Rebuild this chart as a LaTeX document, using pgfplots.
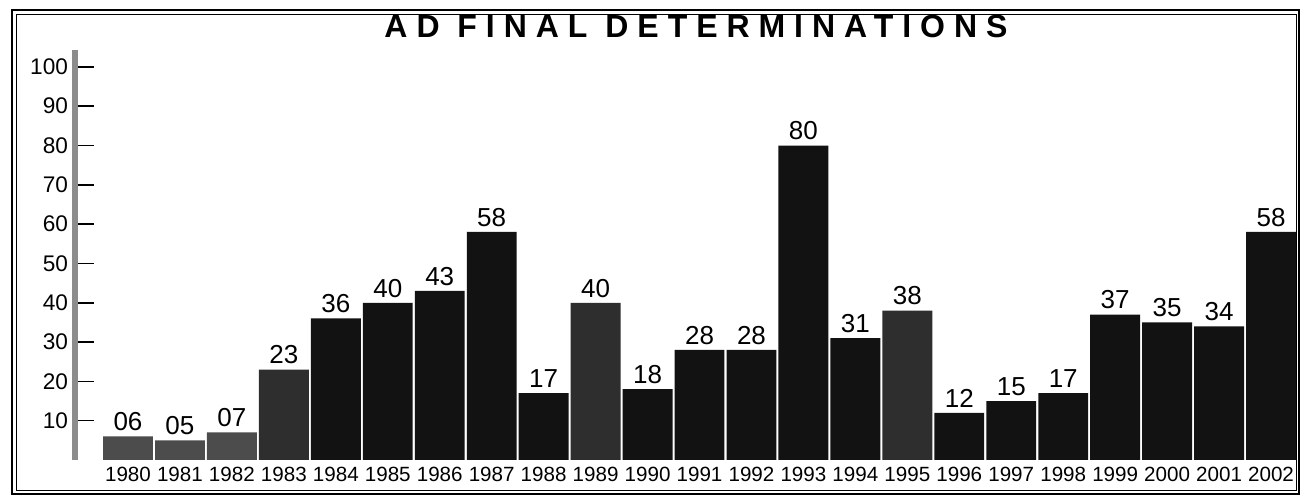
\documentclass[border=0pt]{standalone}
\usepackage{fontspec}
\setmainfont{Liberation Sans}
\usepackage{pgfplots}
\usepackage{pgfplotstable}
\pgfplotsset{compat=1.18}
\pgfplotstableread{
x y lab
0 6 06
1 5 05
2 7 07
}\tA
\pgfplotstableread{
x y lab
3 23 23
9 40 40
15 38 38
}\tB
\pgfplotstableread{
x y lab
4 36 36
5 40 40
6 43 43
7 58 58
8 17 17
10 18 18
11 28 28
12 28 28
13 80 80
14 31 31
16 12 12
17 15 15
18 17 17
19 37 37
20 35 35
21 34 34
22 58 58
}\tC
\begin{document}
\begin{tikzpicture}
\useasboundingbox (0,0) rectangle (650.5pt,248pt);
\draw[line width=1pt] (6pt,1pt) rectangle (649.5pt,243pt);
\draw[line width=0.4pt] (8pt,3pt) rectangle (648pt,241pt);
\node[font=\fontsize{16}{16}\selectfont\bfseries\addfontfeatures{LetterSpace=28}] at (348pt,235pt) {AD FINAL DETERMINATIONS};
\begin{axis}[
  at={(37.5pt,18pt)}, anchor=south west, scale only axis,
  width=611pt, height=205pt,
  xmin=-1.02, xmax=22.5, ymin=0, ymax=104.3,
  axis lines*=left,
  x axis line style={draw=none},
  y axis line style={draw=black!45, line width=3pt},
  xtick={0,...,22},
  xticklabels={1980,1981,1982,1983,1984,1985,1986,1987,1988,1989,1990,1991,1992,1993,1994,1995,1996,1997,1998,1999,2000,2001,2002},
  ytick={10,20,30,40,50,60,70,80,90,100},
  tick align=inside,
  major tick length=9.5pt,
  xtick style={draw=none},
  ytick style={black, line width=0.8pt},
  x tick label style={font=\fontsize{10.3}{10.3}\selectfont},
  y tick label style={font=\fontsize{11.3}{11.3}\selectfont},
  /pgf/number format/assume math mode=true,
  clip=false,
  nodes near coords,
  point meta=explicit symbolic,
  nodes near coords style={font=\fontsize{13}{13}\selectfont, inner sep=2.5pt},
]
\addplot[ybar, bar width=0.96, fill=black!70, draw=none] table[x=x,y=y,meta=lab]{\tA};
\addplot[ybar, bar width=0.96, fill=black!82, draw=none] table[x=x,y=y,meta=lab]{\tB};
\addplot[ybar, bar width=0.96, fill=black!93, draw=none] table[x=x,y=y,meta=lab]{\tC};
\end{axis}
\end{tikzpicture}
\end{document}
